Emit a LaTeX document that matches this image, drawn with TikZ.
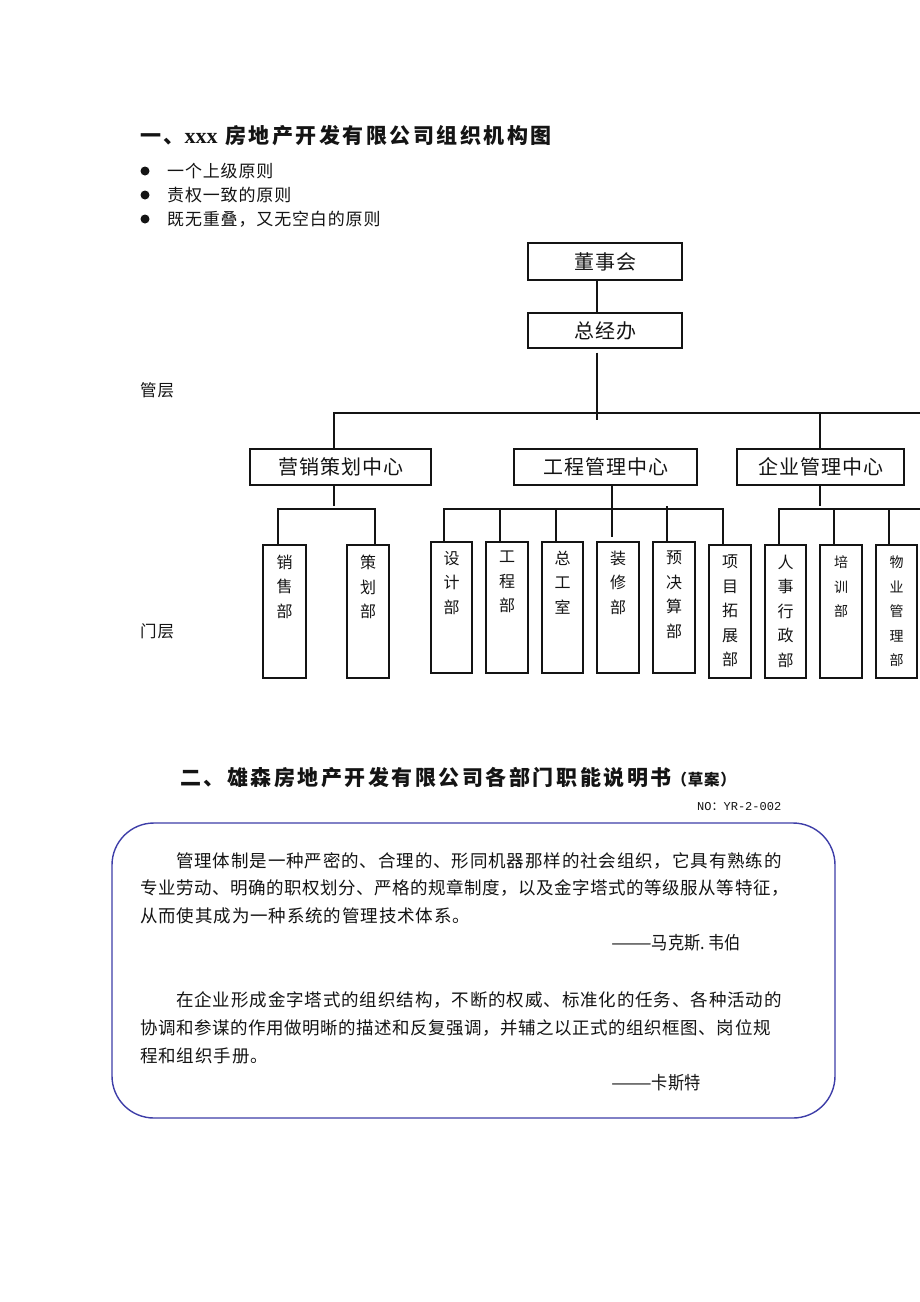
\documentclass[tikz,border=0pt]{standalone}
\usepackage{fontspec}
\setmainfont{Noto Sans CJK SC}
\newfontfamily\cjk[LetterSpace=5]{Noto Sans CJK SC}
\newfontfamily\cjkn[LetterSpace=3]{Noto Sans CJK SC}
\newfontfamily\cjkt[LetterSpace=12]{Noto Sans CJK SC}
\newfontfamily\cjks[FakeStretch=0.9]{Noto Sans CJK SC}
\newfontfamily\serifb{Liberation Serif}
\newfontfamily\monof{Liberation Mono}
\usetikzlibrary{calc}
\definecolor{framec}{RGB}{62,62,168}
\definecolor{inkc}{RGB}{20,20,20}
\newcommand\vcol[4]{\parbox[c][#1pt][t]{30pt}{\centering\fontsize{#2}{24.5}\selectfont\vspace*{#3pt}#4\par}}
\begin{document}
\begin{tikzpicture}[x=1pt,y=-1pt,
  every node/.style={text=inkc},
  line/.style={draw=inkc,line width=1.2pt},
  hbox/.style={draw=inkc,line width=1.2pt,inner sep=0pt,font=\fontsize{20}{20}\selectfont\cjk},
  vbox/.style={draw=inkc,line width=1.2pt,inner sep=0pt},
  txt/.style={inner sep=0pt,anchor=west},
  dot/.style={circle,fill=inkc,inner sep=0pt,minimum size=9pt}]
\useasboundingbox (0,0) rectangle (920,1302);
\fill[white] (0,0) rectangle (920,1302);

% ---------- title 1 and bullets
\node[txt] (t1) at (140,136) {\fontsize{21}{21}\selectfont\cjkt\bfseries 一、{\fontsize{22}{22}\selectfont\serifb\bfseries xxx} 房地产开发有限公司组织机构图};
\node[dot] (d1) at (145,171) {};
\node[dot] (d2) at (145,195) {};
\node[dot] (d3) at (145,219) {};
\node[txt] (b1) at (167,171) {\fontsize{17}{17}\selectfont\cjk 一个上级原则};
\node[txt] (b2) at (167,195) {\fontsize{17}{17}\selectfont\cjk 责权一致的原则};
\node[txt] (b3) at (167,219) {\fontsize{17}{17}\selectfont\cjk 既无重叠，又无空白的原则};

\node[txt] (lg) at (140,390) {\fontsize{16.5}{16.5}\selectfont\cjk 管层};
\node[txt] (lm) at (140,631) {\fontsize{16.5}{16.5}\selectfont\cjk 门层};

% ---------- top boxes
\node[hbox,minimum width=154pt,minimum height=37pt] (dsh) at (605,261.5) {董事会};
\node[hbox,minimum width=154pt,minimum height=35pt] (zjb) at (605,330.5) {总经办};
\node[hbox,minimum width=181pt,minimum height=36pt] (yx) at (340.5,467) {营销策划中心};
\node[hbox,minimum width=183pt,minimum height=36pt] (gc) at (605.5,467) {工程管理中心};
\node[hbox,minimum width=167pt,minimum height=36pt] (qy) at (820.5,467) {企业管理中心};

% ---------- department boxes
\node[vbox,minimum width=43pt,minimum height=133pt] (xs) at (284.5,611.5) {\vcol{133}{16}{10}{\cjk 销\\售\\部}};
\node[vbox,minimum width=42pt,minimum height=133pt] (ch) at (368,611.5) {\vcol{133}{16}{10}{\cjk 策\\划\\部}};
\node[vbox,minimum width=41pt,minimum height=131pt] (sj) at (451.5,607.5) {\vcol{131}{16}{9}{\cjk 设\\计\\部}};
\node[vbox,minimum width=42pt,minimum height=131pt] (gcb) at (507,607.5) {\vcol{131}{16}{9}{\cjk 工\\程\\部}};
\node[vbox,minimum width=41pt,minimum height=131pt] (zgs) at (562.5,607.5) {\vcol{131}{16}{9}{\cjk 总\\工\\室}};
\node[vbox,minimum width=42pt,minimum height=131pt] (zx) at (618,607.5) {\vcol{131}{16}{9}{\cjk 装\\修\\部}};
\node[vbox,minimum width=42pt,minimum height=131pt] (yjs) at (674,607.5) {\vcol{131}{16}{9}{\cjk 预\\决\\算\\部}};
\node[vbox,minimum width=42pt,minimum height=133pt] (xm) at (730,611.5) {\vcol{133}{16}{10}{\cjk 项\\目\\拓\\展\\部}};
\node[vbox,minimum width=41pt,minimum height=133pt] (rs) at (785.5,611.5) {\vcol{133}{16}{10}{\cjk 人\\事\\行\\政\\部}};
\node[vbox,minimum width=42pt,minimum height=133pt] (px) at (841,611.5) {\vcol{133}{14}{11}{\cjk 培\\训\\部}};
\node[vbox,minimum width=41pt,minimum height=133pt] (wy) at (896.5,611.5) {\vcol{133}{14}{11}{\cjk 物\\业\\管\\理\\部}};

% ---------- connector coordinates
\coordinate (b0) at (597,413);
\coordinate (bL) at (334,413);
\coordinate (bQ) at (820,413);
\coordinate (bR) at (921,413);
\coordinate (a1) at (278,509);
\coordinate (a2) at (375,509);
\coordinate (g1) at (444,509);
\coordinate (g2) at (500,509);
\coordinate (g3) at (556,509);
\coordinate (g4) at (612,509);
\coordinate (g5) at (667,509);
\coordinate (g6) at (723,509);
\coordinate (q1) at (779,509);
\coordinate (q2) at (834,509);
\coordinate (q3) at (889,509);
\coordinate (qR) at (921,509);

% ---------- connectors
\draw[line] (dsh.south -| b0) -- (zjb.north -| b0);
\draw[line] ($(zjb.south -| b0)+(0,4)$) -- ($(b0)+(0,7)$);
\draw[line] (yx.north -| bL) -- (bL) -- (bR);
\draw[line] (qy.north -| bQ) -- (bQ);

\draw[line] (yx.south -| bL) -- ($(yx.south -| bL)+(0,20)$);
\draw[line] (xs.north -| a1) -- (a1) -- (a2) -- (ch.north -| a2);

\draw[line] (gc.south -| g4) -- ($(g4)+(0,28)$);
\draw[line] ($(sj.north -| g1)+(0,1)$) -- (g1) -- (g6) -- (xm.north -| g6);
\draw[line] ($(gcb.north -| g2)+(0,1)$) -- (g2);
\draw[line] (zgs.north -| g3) -- (g3);
\draw[line] (yjs.north -| g5) -- ($(g5)+(0,-3)$);

\draw[line] (qy.south -| bQ) -- ($(qy.south -| bQ)+(0,20)$);
\draw[line] (rs.north -| q1) -- (q1) -- (qR);
\draw[line] (px.north -| q2) -- (q2);
\draw[line] (wy.north -| q3) -- (q3);

% ---------- section 2
\node[txt] (t2) at (180,778) {\fontsize{21}{21}\selectfont\cjkt\bfseries 二、雄森房地产开发有限公司各部门职能说明书{\fontsize{15.5}{15.5}\selectfont\cjk\bfseries（草案）}};
\node[txt] (no) at (697,807) {\fontsize{12}{12}\selectfont{\monof NO}{\cjk ：}{\monof YR-2-002}};

\node[draw=framec,line width=1.4pt,rounded corners=42pt,minimum width=723pt,minimum height=295pt,inner sep=0pt] (qb) at (473.5,970.5) {};

\node[txt] (p1) at (176,861) {\fontsize{17.5}{17.5}\selectfont\cjk 管理体制是一种严密的、合理的、形同机器那样的社会组织，它具有熟练的};
\node[txt] (p2) at (140,888) {\fontsize{17.5}{17.5}\selectfont\cjkn 专业劳动、明确的职权划分、严格的规章制度，以及金字塔式的等级服从等特征，};
\node[txt] (p3) at (140,916) {\fontsize{17.5}{17.5}\selectfont\cjk 从而使其成为一种系统的管理技术体系。};
\node[txt] (s1) at (611,943) {\fontsize{18}{18}\selectfont\cjks \scalebox{1.5}[1]{——}马克斯.\,韦伯};

\node[txt] (p4) at (176,1000) {\fontsize{17.5}{17.5}\selectfont\cjk 在企业形成金字塔式的组织结构，不断的权威、标准化的任务、各种活动的};
\node[txt] (p5) at (140,1028) {\fontsize{17.5}{17.5}\selectfont\cjkn 协调和参谋的作用做明晰的描述和反复强调，并辅之以正式的组织框图、岗位规};
\node[txt] (p6) at (140,1056) {\fontsize{17.5}{17.5}\selectfont\cjk 程和组织手册。};
\node[txt] (s2) at (611,1083) {\fontsize{18}{18}\selectfont\cjks \scalebox{1.5}[1]{——}卡斯特};
\end{tikzpicture}
\end{document}
